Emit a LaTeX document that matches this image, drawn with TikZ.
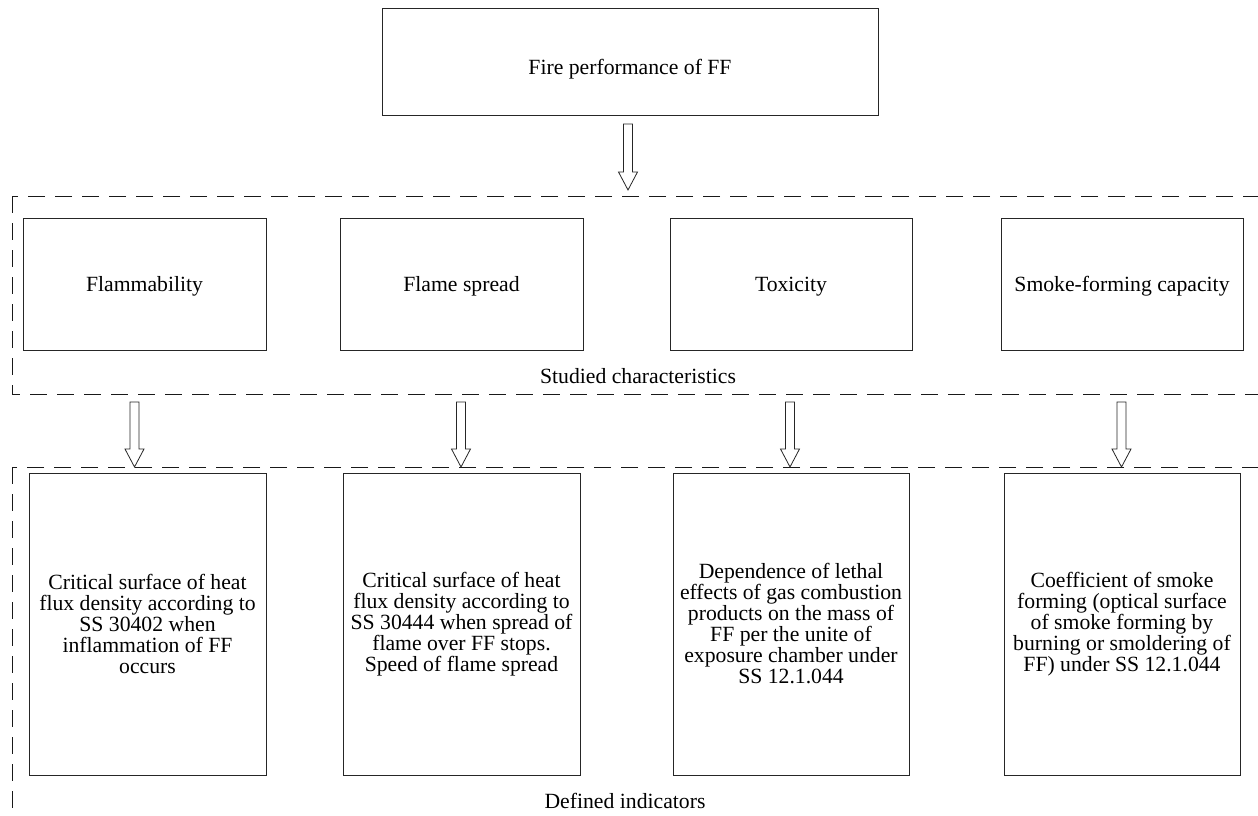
\documentclass[tikz,border=0pt]{standalone}
\usepackage{fontspec}
\setmainfont{Liberation Serif}
\usetikzlibrary{calc}
\tikzset{
  box/.style={draw=black!85, line width=0.85pt, align=center, inner sep=2pt,
    font=\fontsize{21.7}{21}\selectfont},
  frame/.style={draw=black!90, line width=0.85pt, dash pattern=on 17pt off 10pt},
  lbl/.style={font=\fontsize{21.7}{21}\selectfont, inner sep=0pt, anchor=base},
  charbox/.style={box, minimum height=132pt, text height=17pt, text depth=3pt},
  indbox/.style={box, minimum height=302pt},
  arrowline/.style={draw=black!85, line width=0.8pt, fill=white},
}
\newcommand\hollowarrow[2]{%
  \path[arrowline] let \p1=(#1), \p2=(#2) in
    (\x1-4.5pt,\y1) -- (\x1+4.5pt,\y1) -- (\x1+4.5pt,\y2+18pt) -- (\x1+9.5pt,\y2+18pt)
    -- (\x2,\y2) -- (\x1-9.5pt,\y2+18pt) -- (\x1-4.5pt,\y2+18pt) -- cycle;}
\begin{document}
\begin{tikzpicture}[x=1pt,y=-1pt]
\useasboundingbox (0,0) rectangle (1258,816);
\clip (0,0) rectangle (1258,816);
% top
\node[box, minimum width=496pt, minimum height=107pt, text height=28pt, text depth=2pt] (top) at (630,61.5) {Fire performance of FF};
% frames
\draw[frame] (12,196) rectangle (1275,394);
\node[lbl] (lab1) at (638,383) {Studied characteristics};
\draw[frame] (12,467) rectangle (1275,840);
\node[lbl] (lab2) at (625,808) {Defined indicators};
% characteristic boxes
\node[charbox, minimum width=243pt] (flam) at (144.5,284) {Flammability};
\node[charbox, minimum width=243pt] (spread) at (461.5,284) {Flame spread};
\node[charbox, minimum width=242pt] (tox) at (791,284) {Toxicity};
\node[charbox, minimum width=242pt] (smoke) at (1122,284) {Smoke-forming capacity};
% indicator boxes
\node[indbox, minimum width=237pt] (i1) at (147.5,624)
  {Critical surface of heat\\flux density according to\\SS 30402 when\\inflammation of FF\\occurs};
\node[indbox, minimum width=237pt] (i2) at (461.5,624)
  {Critical surface of heat\\flux density according to\\SS 30444 when spread of\\flame over FF stops.\\Speed of flame spread};
\node[indbox, minimum width=236pt] (i3) at (791,624)
  {Dependence of lethal\\effects of gas combustion\\products on the mass of\\FF per the unite of\\exposure chamber under\\SS 12.1.044};
\node[indbox, minimum width=236pt] (i4) at (1122,624)
  {Coefficient of smoke\\forming (optical surface\\of smoke forming by\\burning or smoldering of\\FF) under SS 12.1.044};
% arrow coordinates
\coordinate (a0s) at (628,124); \coordinate (a0e) at (628,190);
\coordinate (a1s) at (134.5,402); \coordinate (a1e) at (134.5,467);
\coordinate (a2s) at (461,402); \coordinate (a2e) at (461,467);
\coordinate (a3s) at (790,402); \coordinate (a3e) at (790,467);
\coordinate (a4s) at (1121.5,402); \coordinate (a4e) at (1121.5,467);
\hollowarrow{a0s}{a0e}
\hollowarrow{a1s}{a1e}
\hollowarrow{a2s}{a2e}
\hollowarrow{a3s}{a3e}
\hollowarrow{a4s}{a4e}
\end{tikzpicture}
\end{document}
